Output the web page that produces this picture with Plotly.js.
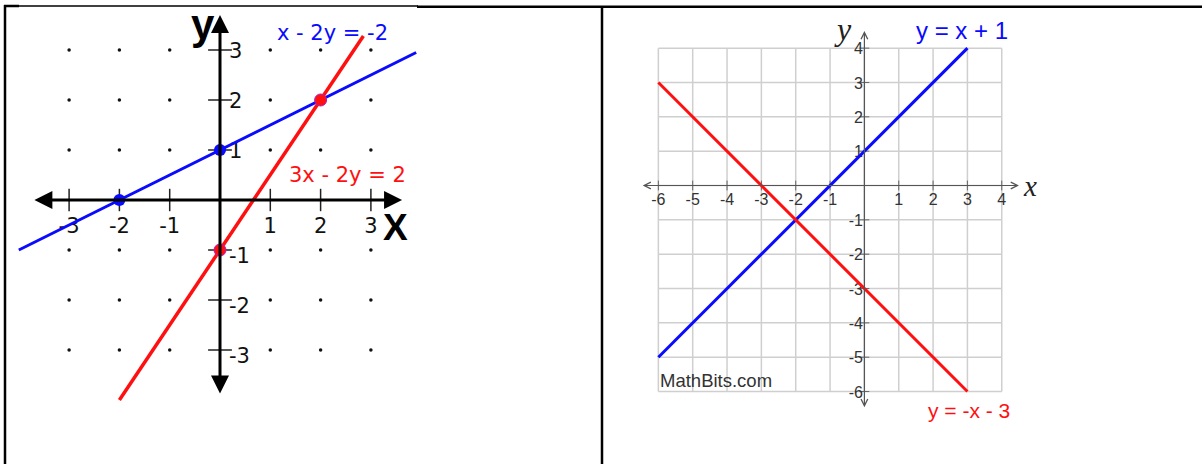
<!DOCTYPE html>
<html lang="en">
<head>
    <meta charset="UTF-8">
    <title>Systems of linear equations</title>
    <script src="https://cdn.plot.ly/plotly-3.0.1.min.js"></script>
    <style>
        body, html {
            margin: 0;
            padding: 0;
            background: white;
        }
        #chart {
            width: 1202px;
            height: 464px;
        }
    </style>
</head>
<body>
    <div id="chart"></div>
    <script>
        // ---- left graph: x - 2y = -2 and 3x - 2y = 2 ----
        const leftTicks = [-3, -2, -1, 1, 2, 3];
        const leftTickText = ['-3', '-2', '-1', '1', '2', '3'];
        const blueLeftX = [-4, 3.9];
        const blueLeftY = [-1, 2.95];
        const redLeftX = [-2, 2.85];
        const redLeftY = [-4, 3.28];
        const blueDotsX = [-2, 0];
        const blueDotsY = [0, 1];
        const redDotsX = [0, 2];
        const redDotsY = [-1, 2];

        // ---- right graph: y = x + 1 and y = -x - 3 ----
        const gridVals = [-6, -5, -4, -3, -2, -1, 0, 1, 2, 3, 4];
        const rightXTicks = [-6, -5, -4, -3, -2, -1, 1, 2, 3, 4];
        const rightYTicks = [4, 3, 2, 1, -1, -2, -3, -4, -5, -6];
        const blueRightX = [-6, 3];
        const blueRightY = [-5, 4];
        const redRightX = [-6, 3];
        const redRightY = [3, -6];

        const W = 1202, H = 464;
        const BLUE = '#0a0aff';
        const RED = '#ff1010';

        // dotted lattice of the left graph
        const latticeX = [], latticeY = [];
        leftTicks.forEach(a => leftTicks.forEach(b => { latticeX.push(a); latticeY.push(b); }));

        const traces = [
            // left graph
            {x: latticeX, y: latticeY, xaxis: 'x', yaxis: 'y', mode: 'markers',
             marker: {size: 3.5, color: '#111'}},
            {x: leftTicks, y: leftTicks.map(() => 0), xaxis: 'x', yaxis: 'y', mode: 'markers',
             marker: {symbol: 'line-ns', size: 16, line: {width: 1.5, color: '#222'}}},
            {x: leftTicks.map(() => 0), y: leftTicks, xaxis: 'x', yaxis: 'y', mode: 'markers',
             marker: {symbol: 'line-ew', size: 17, line: {width: 1.5, color: '#222'}}},
            {x: leftTicks, y: leftTicks.map(() => -0.55), xaxis: 'x', yaxis: 'y', mode: 'text',
             text: leftTickText, textposition: 'middle center', cliponaxis: false,
             textfont: {family: 'DejaVu Sans', size: 21, color: '#111'}},
            {x: leftTicks.map(() => 0.18), y: leftTicks.map(v => v > 0 ? v - 0.05 : v - 0.16),
             xaxis: 'x', yaxis: 'y', mode: 'text',
             text: leftTickText, textposition: 'middle right', cliponaxis: false,
             textfont: {family: 'DejaVu Sans', size: 21, color: '#111'}},
            {x: blueLeftX, y: blueLeftY, xaxis: 'x', yaxis: 'y', mode: 'lines',
             line: {color: BLUE, width: 3}},
            {x: redLeftX, y: redLeftY, xaxis: 'x', yaxis: 'y', mode: 'lines',
             line: {color: RED, width: 3.5}},
            {x: blueDotsX, y: blueDotsY, xaxis: 'x', yaxis: 'y', mode: 'markers',
             marker: {size: 12, color: BLUE}},
            {x: redDotsX, y: redDotsY, xaxis: 'x', yaxis: 'y', mode: 'markers',
             marker: {size: 12, color: RED, line: {width: 1, color: '#b020c0'}}},

            // right graph
            {x: rightXTicks, y: rightXTicks.map(() => 0), xaxis: 'x2', yaxis: 'y2', mode: 'markers',
             marker: {symbol: 'line-ns', size: 7, line: {width: 1, color: '#666'}}},
            {x: rightYTicks.map(() => 0), y: rightYTicks, xaxis: 'x2', yaxis: 'y2', mode: 'markers',
             marker: {symbol: 'line-ew', size: 7, line: {width: 1, color: '#666'}}},
            {x: rightXTicks, y: rightXTicks.map(() => -0.46), xaxis: 'x2', yaxis: 'y2', mode: 'text',
             text: rightXTicks.map(String), textposition: 'middle center', cliponaxis: false,
             textfont: {family: 'Liberation Sans', size: 16, color: '#333'}},
            {x: rightYTicks.map(() => -0.04), y: rightYTicks.map(v => v - 0.06),
             xaxis: 'x2', yaxis: 'y2', mode: 'text',
             text: rightYTicks.map(String), textposition: 'middle left', cliponaxis: false,
             textfont: {family: 'Liberation Sans', size: 16, color: '#333'}},
            {x: blueRightX, y: blueRightY, xaxis: 'x2', yaxis: 'y2', mode: 'lines',
             line: {color: BLUE, width: 3}},
            {x: redRightX, y: redRightY, xaxis: 'x2', yaxis: 'y2', mode: 'lines',
             line: {color: RED, width: 3}}
        ];

        // grid of the right graph
        const shapes = [];
        gridVals.forEach(v => {
            shapes.push({type: 'line', xref: 'x2', yref: 'y2', layer: 'below',
                x0: v, x1: v, y0: gridVals[0], y1: gridVals[gridVals.length - 1],
                line: {color: '#cfcfcf', width: 1.5}});
            shapes.push({type: 'line', xref: 'x2', yref: 'y2', layer: 'below',
                y0: v, y1: v, x0: gridVals[0], x1: gridVals[gridVals.length - 1],
                line: {color: '#cfcfcf', width: 1.5}});
        });

        // table borders round the two cells
        const border = (x0, y0, x1, y1, w) => ({type: 'line', xref: 'paper', yref: 'paper',
            x0: x0 / W, x1: x1 / W, y0: 1 - y0 / H, y1: 1 - y1 / H,
            line: {color: '#000', width: w}});
        shapes.push(border(4, 6, 19, 6, 2.5));
        shapes.push(border(4, 6, 418, 6, 1.5));
        shapes.push(border(417, 6.8, W, 6.8, 2.5));
        shapes.push(border(5, 5, 5, H, 2.5));
        shapes.push(border(602, 6, 602, H, 2.5));

        const axisArrow = (xr, yr, x, y, ax, ay, head, width, size, color) => ({
            xref: xr, yref: yr, axref: xr, ayref: yr, x: x, y: y, ax: ax, ay: ay, text: '',
            showarrow: true, arrowside: 'end+start', arrowhead: head,
            arrowwidth: width, arrowsize: size, arrowcolor: color
        });

        const label = (xr, yr, x, y, text, font, xanchor) => ({
            xref: xr, yref: yr, x: x, y: y, text: text, showarrow: false,
            xanchor: xanchor || 'center', yanchor: 'middle', font: font
        });

        const annotations = [
            axisArrow('x', 'y', 3.62, 0, -3.72, 0, 2, 3, 1.2, '#000'),
            axisArrow('x', 'y', 0, 3.7, 0, -3.9, 2, 3, 1.2, '#000'),
            axisArrow('x2', 'y2', 4.5, 0, -6.5, 0, 5, 1.2, 1.1, '#555'),
            axisArrow('x2', 'y2', 0, 4.5, 0, -6.5, 5, 1.2, 1.1, '#555'),

            label('x', 'y', 2.24, 3.34, 'x - 2y = -2', {family: 'DejaVu Sans', size: 21, color: BLUE}),
            label('x', 'y', 2.53, 0.5, '3x - 2y = 2', {family: 'DejaVu Sans', size: 21, color: RED}),
            label('x', 'y', -0.34, 3.52, '<b>y</b>', {family: 'Liberation Sans', size: 42, color: '#000'}),
            label('x', 'y', 3.48, -0.54, '<b>X</b>', {family: 'Liberation Sans', size: 37, color: '#000'}),

            label('x2', 'y2', 2.84, 4.5, 'y = x + 1', {family: 'Liberation Sans', size: 24, color: BLUE}),
            label('x2', 'y2', 3.05, -6.54, 'y = -x - 3', {family: 'Liberation Sans', size: 21, color: RED}),
            label('x2', 'y2', -6.02, -5.69, 'MathBits.com', {family: 'Liberation Sans', size: 18.5, color: '#333'}, 'left'),
            label('x2', 'y2', -0.62, 4.55, '<i>y</i>', {family: 'Liberation Serif', size: 32, color: '#222'}),
            label('x2', 'y2', 4.82, -0.02, '<i>x</i>', {family: 'Liberation Serif', size: 29, color: '#222'})
        ];

        const hidden = {showgrid: false, zeroline: false, showticklabels: false,
            showline: false, ticks: '', fixedrange: true};

        const layout = {
            width: W,
            height: H,
            margin: {t: 0, r: 0, b: 0, l: 0},
            paper_bgcolor: 'white',
            plot_bgcolor: 'rgba(0,0,0,0)',
            showlegend: false,
            xaxis: Object.assign({domain: [6 / W, 420 / W], range: [(6 - 220) / 50.3, (420 - 220) / 50.3]}, hidden),
            yaxis: Object.assign({domain: [0, 1 - 8 / H], range: [(200 - 464) / 50, (200 - 8) / 50]}, hidden),
            xaxis2: Object.assign({domain: [604 / W, 1], range: [(604 - 864.4) / 34.34, (W - 864.4) / 34.34]}, hidden),
            yaxis2: Object.assign({domain: [0, 1 - 8 / H], range: [(185.5 - 464) / 34.34, (185.5 - 8) / 34.34]}, hidden),
            shapes: shapes,
            annotations: annotations
        };

        Plotly.newPlot('chart', traces, layout, {displayModeBar: false, responsive: false});
    </script>
</body>
</html>
